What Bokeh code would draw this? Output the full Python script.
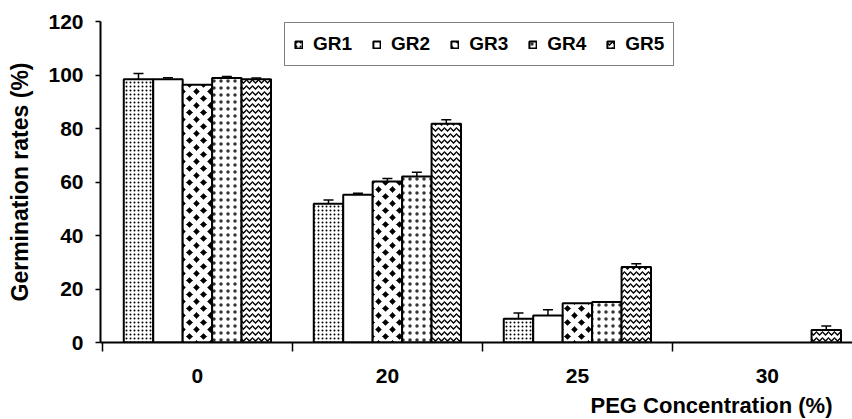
from bokeh.plotting import figure
from bokeh.models import Range1d, FixedTicker, ColumnDataSource, Whisker, TeeHead, Title
from bokeh.embed import file_html
from bokeh.resources import INLINE

# ---- data ----
categories = ["0", "20", "25", "30"]
series = ["GR1", "GR2", "GR3", "GR4", "GR5"]
gr1 = [98.4, 51.9, 8.9, 0]
gr2 = [98.4, 55.2, 10.1, 0]
gr3 = [96.4, 60.2, 14.7, 0]
gr4 = [98.9, 62.1, 15.1, 0]
gr5 = [98.4, 81.8, 28.2, 4.7]
err1 = [2.2, 1.4, 2.1, 0]
err2 = [0.6, 0.6, 2.1, 0]
err3 = [0, 1.1, 0, 0]
err4 = [0.5, 1.5, 0, 0]
err5 = [0.5, 1.5, 1.2, 1.5]
y_ticks = [0, 20, 40, 60, 80, 100, 120]

values = [gr1, gr2, gr3, gr4, gr5]
errors = [err1, err2, err3, err4, err5]

FONT = "Liberation Sans"

styles = [
    dict(fill_color="white", hatch_pattern="dot", hatch_color="black", hatch_scale=4, hatch_weight=1.2),
    dict(fill_color="white", hatch_pattern="blank", hatch_color="black", hatch_scale=4, hatch_weight=1),
    dict(fill_color="black", hatch_pattern="diagonal_cross", hatch_color="white", hatch_scale=14, hatch_weight=5.2),
    dict(fill_color="white", hatch_pattern="dot", hatch_color="black", hatch_scale=7, hatch_weight=0.6, hatch_alpha=0.8),
    dict(fill_color="white", hatch_pattern="horizontal_wave", hatch_color="black", hatch_scale=6, hatch_weight=1.3),
]

p = figure(frame_width=752, frame_height=321,
           x_range=Range1d(-0.01, 3.948), y_range=Range1d(0, 120),
           output_backend="svg", toolbar_location=None,
           min_border_left=100, min_border_right=0, min_border_top=21, min_border_bottom=0)
p.outline_line_color = None
p.xgrid.visible = False
p.ygrid.visible = False
p.background_fill_color = "white"

bar_w = 0.155
for i, (name, vals, errs, st) in enumerate(zip(series, values, errors, styles)):
    off = (i - 2) * bar_w
    xs = [k + 0.5 + off for k, v in enumerate(vals) if v > 0]
    tops = [v for v in vals if v > 0]
    p.vbar(x=xs, top=tops, width=bar_w, line_color="black", line_width=2,
           legend_label=name, **st)
    ex = [k + 0.5 + off for k, e in enumerate(errs) if e > 0]
    lo = [vals[k] for k, e in enumerate(errs) if e > 0]
    hi = [vals[k] + e for k, e in enumerate(errs) if e > 0]
    if ex:
        src = ColumnDataSource(dict(x=ex, lower=lo, upper=hi))
        w = Whisker(source=src, base="x", lower="lower", upper="upper", dimension="height",
                    line_color="black", line_width=1.5, lower_head=None,
                    upper_head=TeeHead(size=10, line_color="black", line_width=1.5))
        p.add_layout(w)

# x axis
xa = p.xaxis[0]
xa.ticker = FixedTicker(ticks=[k + 0.5 for k in range(len(categories))],
                        minor_ticks=list(range(len(categories) + 1)))
xa.major_label_overrides = {k + 0.5: c for k, c in enumerate(categories)}
xa.major_tick_out = 0
xa.major_tick_in = 0
xa.minor_tick_out = 9
xa.minor_tick_in = 0
xa.minor_tick_line_width = 1.5
xa.axis_line_width = 2
xa.major_label_standoff = 17
xa.major_label_text_font = FONT
xa.major_label_text_font_style = "bold"
xa.major_label_text_font_size = "21px"
xa.major_label_text_color = "black"

# y axis
ya = p.yaxis[0]
ya.ticker = FixedTicker(ticks=y_ticks)
ya.major_tick_out = 5
ya.major_tick_in = 0
ya.minor_tick_line_color = None
ya.axis_line_width = 2
ya.major_tick_line_width = 1.5
ya.major_label_standoff = 12
ya.major_label_text_font = FONT
ya.major_label_text_font_style = "bold"
ya.major_label_text_font_size = "21px"
ya.major_label_text_color = "black"
ya.axis_label = "Germination rates (%)"
ya.axis_label_text_font = FONT
ya.axis_label_text_font_style = "bold"
ya.axis_label_text_font_size = "23px"
ya.axis_label_text_color = "black"
ya.axis_label_standoff = 12

t = Title(text="PEG Concentration (%)", align="right", offset=20,
          text_font=FONT, text_font_style="bold", text_font_size="22px", text_color="black")
p.add_layout(t, "below")

lg = p.legend[0]
lg.orientation = "horizontal"
lg.location = (184, 276)
lg.label_text_font = FONT
lg.label_text_font_style = "bold"
lg.label_text_font_size = "19px"
lg.label_text_color = "black"
lg.label_height = 24
lg.glyph_width = 9
lg.glyph_height = 9
lg.label_standoff = 10
lg.spacing = 20
lg.padding = 9
lg.margin = 0
lg.border_line_color = "black"
lg.border_line_width = 1.5
lg.background_fill_alpha = 1

open("out.html", "w").write(file_html(p, INLINE))
